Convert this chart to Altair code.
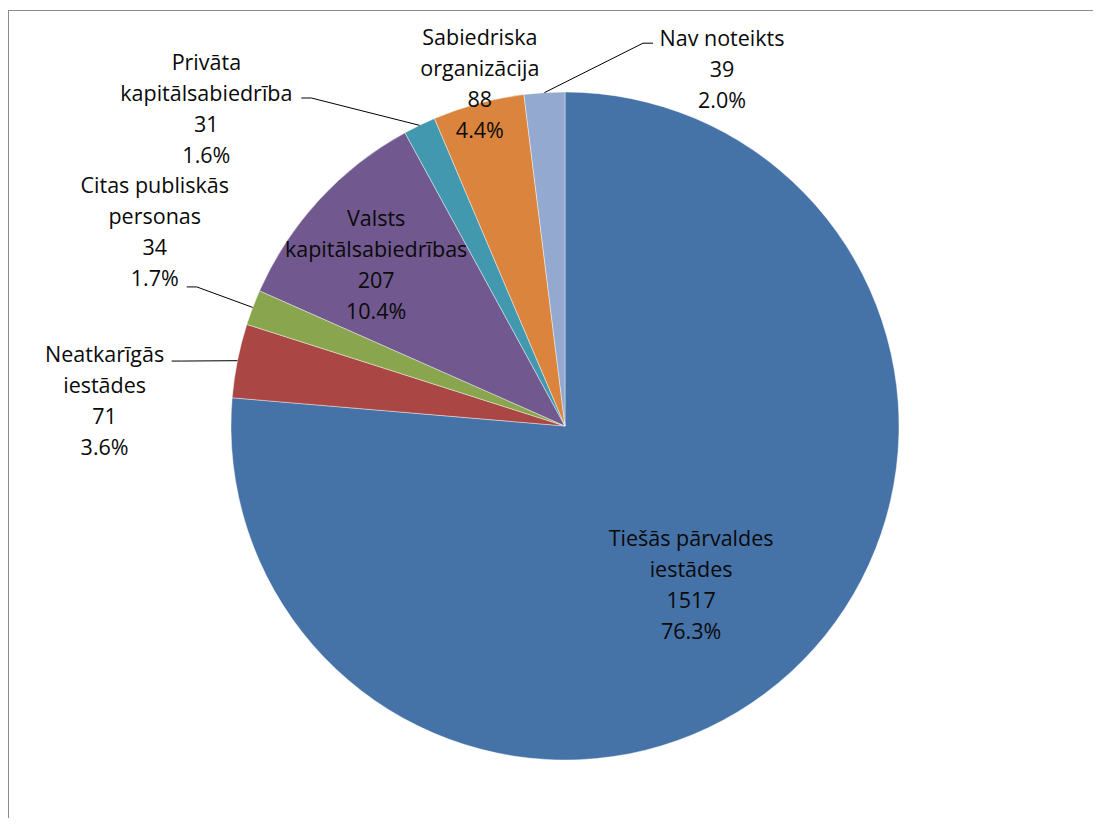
import altair as alt
import pandas as pd

# ---- data ----
categories = [
    "Tiešās pārvaldes iestādes",
    "Neatkarīgās iestādes",
    "Citas publiskās personas",
    "Valsts kapitālsabiedrības",
    "Privāta kapitālsabiedrība",
    "Sabiedriska organizācija",
    "Nav noteikts",
]
wrapped_names = [
    "Tiešās pārvaldes\niestādes",
    "Neatkarīgās\niestādes",
    "Citas publiskās\npersonas",
    "Valsts\nkapitālsabiedrības",
    "Privāta\nkapitālsabiedrība",
    "Sabiedriska\norganizācija",
    "Nav noteikts",
]
values = [1517, 71, 34, 207, 31, 88, 39]
colors = ["#4572A7", "#AA4643", "#89A54E", "#71588F", "#4198AF", "#DB843D", "#93A9CF"]

# ---- layout (pixels / degrees) ----
W, H = 1085, 810
CX, CY, R = 557, 418, 334
LH = 31
label_radius = [204, 461, 453, 247, 478, 351, 388]
label_shift = [4.4, -8.3, 4.3, -2.5, -22.8, 1.0, 27.4]
has_leader = [False, True, True, False, True, False, True]
leader_dx = [0, 67, 32, 0, 95, 0, -69]
leader_dy = [0, -41, 53, 0, -12, 0, -28]

total = sum(values)
df = pd.DataFrame({
    "category": categories,
    "value": values,
    "order": list(range(len(values))),
    "lab_r": label_radius,
    "shift": label_shift,
    "leader": has_leader,
    "ldx": leader_dx,
    "ldy": leader_dy,
})
df["lines"] = [n.split("\n") + [str(v), f"{v / total * 100:.1f}%"] for n, v in zip(wrapped_names, values)]

base = alt.Chart(df).transform_joinaggregate(
    total="sum(value)"
).transform_window(
    cum="sum(value)", sort=[alt.SortField("order")], frame=[None, 0]
).transform_calculate(
    mid="(datum.cum - datum.value/2) / datum.total * 2 * PI",
).transform_calculate(
    lab_theta="datum.mid + datum.shift * PI / 180",
    sx=f"{CX} + {R} * sin(datum.mid)",
    sy=f"{CY} - {R} * cos(datum.mid)",
).transform_calculate(
    lx=f"{CX} + datum.lab_r * sin(datum.lab_theta)",
    ly=f"{CY} - datum.lab_r * cos(datum.lab_theta)",
).transform_calculate(
    ty=f"datum.ly - (length(datum.lines) - 1) * {LH} / 2",
    ex="datum.lx + datum.ldx",
    ey="datum.ly + datum.ldy",
).transform_calculate(
    bx="datum.ex + (datum.sx > datum.ex ? 10 : -10)",
    by="datum.ey",
)

pie = alt.Chart(df).mark_arc(radius=R, stroke="#ffffff", strokeWidth=0.6, strokeOpacity=0.7).encode(
    theta=alt.Theta("value:Q", stack=True),
    order=alt.Order("order:Q"),
    color=alt.Color("category:N", scale=alt.Scale(domain=categories, range=colors), legend=None),
    x=alt.value(CX),
    y=alt.value(CY),
)

labels = base.mark_text(
    font="Open Sans", fontSize=21.5, lineHeight=LH, color="#0a0a0a",
    align="center", baseline="middle",
).encode(
    x=alt.X("lx:Q", scale=None),
    y=alt.Y("ty:Q", scale=None),
    text=alt.Text("lines:N"),
)

lead1 = base.transform_filter("datum.leader").mark_rule(color="#000000", strokeWidth=1).encode(
    x=alt.X("sx:Q", scale=None), y=alt.Y("sy:Q", scale=None),
    x2="bx:Q", y2="by:Q",
)
lead2 = base.transform_filter("datum.leader").mark_rule(color="#000000", strokeWidth=1).encode(
    x=alt.X("bx:Q", scale=None), y=alt.Y("by:Q", scale=None),
    x2="ex:Q", y2="ey:Q",
)

frame_df = pd.DataFrame({"k": [0]})
top_line = alt.Chart(frame_df).mark_rule(color="#8c8c8c", strokeWidth=1).encode(
    x=alt.value(0), x2=alt.value(W), y=alt.value(2.5)
)
left_line = alt.Chart(frame_df).mark_rule(color="#8c8c8c", strokeWidth=1).encode(
    x=alt.value(0.5), y=alt.value(2), y2=alt.value(H)
)

chart = alt.layer(top_line, left_line, pie, lead1, lead2, labels).properties(
    width=W, height=H, padding=0, autosize=alt.AutoSizeParams(type="none"),
    background="#ffffff",
).configure_view(stroke=None)

chart.save("out.html", embed_options={"renderer": "svg", "actions": False})
